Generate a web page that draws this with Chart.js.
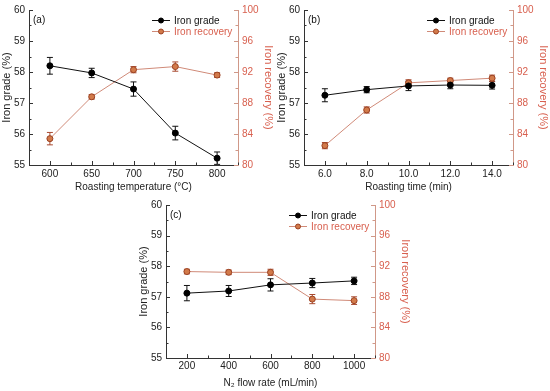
<!DOCTYPE html>
<html>
<head>
<meta charset="utf-8">
<script src="https://cdn.jsdelivr.net/npm/chart.js@4/dist/chart.umd.min.js"></script>
<style>
  html, body { margin: 0; padding: 0; background: #fff; }
  body { width: 550px; height: 391px; position: relative; overflow: hidden; }
  .panel { position: absolute; }
</style>
</head>
<body>
<div class="panel" style="left:0;top:0;width:275px;height:195px"><canvas id="chartA"></canvas></div>
<div class="panel" style="left:275px;top:0;width:275px;height:195px"><canvas id="chartB"></canvas></div>
<div class="panel" style="left:137px;top:195px;width:275px;height:196px"><canvas id="chartC"></canvas></div>
<script>
// data
const tempX = [600, 650, 700, 750, 800];
const tempGrade = [58.2, 57.97, 57.45, 56.03, 55.22];
const tempGradeErr = [0.27, 0.15, 0.23, 0.22, 0.2];
const tempRecovery = [83.4, 88.8, 92.3, 92.7, 91.6];
const tempRecoveryErr = [0.8, 0.3, 0.4, 0.6, 0.3];

const timeX = [6, 8, 10, 12, 14];
const timeGrade = [57.25, 57.43, 57.55, 57.58, 57.57];
const timeGradeErr = [0.21, 0.1, 0.15, 0.12, 0.12];
const timeRecovery = [82.5, 87.1, 90.6, 90.9, 91.2];
const timeRecoveryErr = [0.4, 0.4, 0.4, 0.3, 0.4];

const flowX = [200, 400, 600, 800, 1000];
const flowGrade = [57.12, 57.19, 57.39, 57.45, 57.52];
const flowGradeErr = [0.25, 0.18, 0.2, 0.15, 0.12];
const flowRecovery = [91.3, 91.2, 91.2, 87.7, 87.5];
const flowRecoveryErr = [0.3, 0.3, 0.4, 0.6, 0.5];

const gradeTicks = [55, 56, 57, 58, 59, 60];
const recoveryTicks = [80, 84, 88, 92, 96, 100];
const tempTicks = [600, 650, 700, 750, 800];
const timeTicks = [6, 8, 10, 12, 14];
const flowTicks = [200, 400, 600, 800, 1000];

const FONT = 'Liberation Sans, Arial, sans-serif';
const RED = '#d8604f';
const RED_AXIS = '#d09888';
const REC_LINE = '#d08a78';

// error bars, drawn under the markers
const errorBars = {
    id: 'errorBars',
    beforeDatasetsDraw(chart) {
        const ctx = chart.ctx;
        chart.data.datasets.forEach((ds, i) => {
            const meta = chart.getDatasetMeta(i);
            const ys = chart.scales[ds.yAxisID];
            ctx.save();
            ctx.strokeStyle = ds.errColor;
            ctx.lineWidth = 1;
            meta.data.forEach((pt, j) => {
                const v = ds.data[j].y, e = ds.errors[j];
                const y1 = ys.getPixelForValue(v + e), y2 = ys.getPixelForValue(v - e);
                ctx.beginPath();
                ctx.moveTo(pt.x, y1); ctx.lineTo(pt.x, y2);
                ctx.moveTo(pt.x - 3, y1); ctx.lineTo(pt.x + 3, y1);
                ctx.moveTo(pt.x - 3, y2); ctx.lineTo(pt.x + 3, y2);
                ctx.stroke();
            });
            ctx.restore();
        });
    }
};

// inward major and minor ticks
const innerTicks = {
    id: 'innerTicks',
    afterDraw(chart) {
        const ctx = chart.ctx, a = chart.chartArea;
        const draw = (scale, color, fn) => {
            const vals = scale.ticks.map(t => t.value);
            ctx.save();
            ctx.strokeStyle = color;
            ctx.lineWidth = 1;
            ctx.beginPath();
            vals.forEach((v, k) => {
                fn(scale.getPixelForValue(v), 4);
                if (k < vals.length - 1) fn(scale.getPixelForValue((v + vals[k + 1]) / 2), 2.5);
            });
            if (scale.axis === 'x') {
                const step = vals[1] - vals[0];
                fn(scale.getPixelForValue(vals[0] - step / 2), 2.5);
                fn(scale.getPixelForValue(vals[vals.length - 1] + step / 2), 2.5);
            }
            ctx.stroke();
            ctx.restore();
        };
        draw(chart.scales.x, '#333', (p, l) => { const x = Math.round(p) + 0.5; ctx.moveTo(x, a.bottom); ctx.lineTo(x, a.bottom - l); });
        draw(chart.scales.yL, '#333', (p, l) => { const y = Math.round(p) + 0.5; ctx.moveTo(a.left, y); ctx.lineTo(a.left + l, y); });
        draw(chart.scales.yR, RED_AXIS, (p, l) => { const y = Math.round(p) + 0.5; ctx.moveTo(a.right, y); ctx.lineTo(a.right - l, y); });
    }
};

// legend and panel letter inside the plot
const innerLegend = {
    id: 'innerLegend',
    afterDraw(chart) {
        const ctx = chart.ctx, a = chart.chartArea;
        ctx.save();
        ctx.font = '10px ' + FONT;
        ctx.textBaseline = 'middle';
        ctx.fillStyle = '#111';
        ctx.fillText(chart.options.panelLabel, a.left + 4, a.top + 10);
        chart.data.datasets.forEach((ds, i) => {
            const y = a.top + 10 + i * 11;
            const x0 = a.left + 123;
            ctx.strokeStyle = ds.borderColor;
            ctx.lineWidth = 1;
            ctx.beginPath(); ctx.moveTo(x0, y + 0.5); ctx.lineTo(x0 + 18, y + 0.5); ctx.stroke();
            ctx.beginPath(); ctx.arc(x0 + 9, y + 0.5, 2.5, 0, Math.PI * 2);
            ctx.fillStyle = ds.pointBackgroundColor; ctx.fill();
            ctx.strokeStyle = ds.pointBorderColor; ctx.stroke();
            ctx.fillStyle = ds.textColor;
            ctx.fillText(ds.label, x0 + 22, y + 1);
        });
        ctx.restore();
    }
};

function pts(xs, ys) {
    return xs.map((x, i) => ({ x: x, y: ys[i] }));
}

function makePanel(id, opt) {
    new Chart(document.getElementById(id), {
        type: 'line',
        data: {
            datasets: [{
                label: 'Iron grade',
                data: pts(opt.x, opt.grade),
                errors: opt.gradeErr,
                errColor: '#111',
                textColor: '#111',
                yAxisID: 'yL',
                borderColor: '#111',
                borderWidth: 1,
                pointStyle: 'circle',
                pointRadius: 3,
                pointBackgroundColor: '#000',
                pointBorderColor: '#000'
            }, {
                label: 'Iron recovery',
                data: pts(opt.x, opt.recovery),
                errors: opt.recoveryErr,
                errColor: '#a84a30',
                textColor: RED,
                yAxisID: 'yR',
                borderColor: REC_LINE,
                borderWidth: 1,
                pointStyle: 'circle',
                pointRadius: 3,
                pointBackgroundColor: '#d27a4a',
                pointBorderColor: '#9a4020'
            }]
        },
        options: {
            panelLabel: opt.label,
            responsive: true,
            maintainAspectRatio: false,
            animation: false,
            layout: { padding: { top: 8, left: 0, right: 0, bottom: 0 } },
            plugins: { legend: { display: false }, tooltip: { enabled: false } },
            scales: {
                x: {
                    type: 'linear', min: opt.min, max: opt.max,
                    afterBuildTicks: s => { s.ticks = opt.ticks.map(v => ({ value: v })); },
                    afterFit: s => { s.height = opt.bottomH; },
                    grid: { drawOnChartArea: false, drawTicks: false },
                    border: { color: '#333', width: 1 },
                    ticks: { padding: opt.tickPad, color: '#222', font: { family: FONT, size: 10 }, callback: opt.fmt, maxRotation: 0 },
                    title: { display: true, text: opt.xTitle, color: '#222', font: { family: FONT, size: 10 }, padding: { top: 0, bottom: 2 } }
                },
                yL: {
                    type: 'linear', position: 'left', min: 55, max: 60,
                    afterBuildTicks: s => { s.ticks = gradeTicks.map(v => ({ value: v })); },
                    afterFit: s => { s.width = 29; },
                    grid: { drawOnChartArea: false, drawTicks: false },
                    border: { color: '#333', width: 1 },
                    ticks: { padding: 4, color: '#222', font: { family: FONT, size: 10 } },
                    title: { display: true, text: 'Iron grade (%)', color: '#222', font: { family: FONT, size: 11 }, padding: { top: 0, bottom: 2 } }
                },
                yR: {
                    type: 'linear', position: 'right', min: 80, max: 100,
                    afterBuildTicks: s => { s.ticks = recoveryTicks.map(v => ({ value: v })); },
                    afterFit: s => { s.width = 37; },
                    grid: { drawOnChartArea: false, drawTicks: false },
                    border: { color: RED_AXIS, width: 1 },
                    ticks: { padding: 4, color: RED, font: { family: FONT, size: 10 } },
                    title: { display: true, text: 'Iron recovery (%)', color: RED, font: { family: FONT, size: 11 }, padding: { top: 0, bottom: 6 } }
                }
            }
        },
        plugins: [errorBars, innerTicks, innerLegend]
    });
}

makePanel('chartA', {
    label: '(a)', x: tempX, grade: tempGrade, gradeErr: tempGradeErr, recovery: tempRecovery, recoveryErr: tempRecoveryErr,
    ticks: tempTicks, min: 575, max: 825, fmt: v => v, xTitle: 'Roasting temperature (°C)',
    bottomH: 30, tickPad: 3
});
makePanel('chartB', {
    label: '(b)', x: timeX, grade: timeGrade, gradeErr: timeGradeErr, recovery: timeRecovery, recoveryErr: timeRecoveryErr,
    ticks: timeTicks, min: 5, max: 15, fmt: v => Number(v).toFixed(1), xTitle: 'Roasting time (min)',
    bottomH: 30, tickPad: 3
});
makePanel('chartC', {
    label: '(c)', x: flowX, grade: flowGrade, gradeErr: flowGradeErr, recovery: flowRecovery, recoveryErr: flowRecoveryErr,
    ticks: flowTicks, min: 100, max: 1100, fmt: v => v, xTitle: 'N₂ flow rate (mL/min)',
    bottomH: 33, tickPad: 2
});
</script>
</body>
</html>
